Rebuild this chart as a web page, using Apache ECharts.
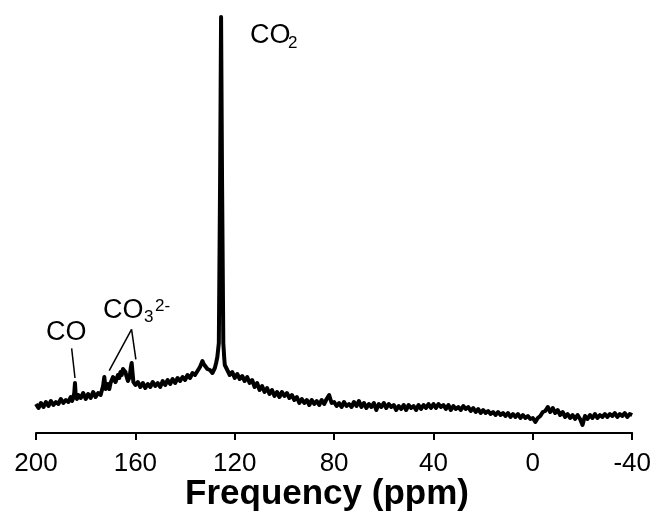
<!DOCTYPE html>
<html>
<head>
<meta charset="utf-8">
<script src="https://cdn.jsdelivr.net/npm/echarts@6/dist/echarts.min.js"></script>
<style>html,body{margin:0;padding:0;background:#fff}#c{width:654px;height:515px}</style>
</head>
<body>
<div id="c"></div>
<script>
// x axis ticks (ppm)
const xTicks = [200, 160, 120, 80, 40, 0, -40];
// spectrum segments: [ppm, intensity]
const segA = [[200,29],[199,25],[198,30],[197,26],[196,31],[195,27],[194,32],[193,28],[192,31],[191,29],[190,34],[189,30],[188,33],[187,31],[186,36],[185.5,32],[185,35],[184.6,40],[184.3,50],[184,37],[183.5,34],[183,38],[182,35],[181,40],[180,34],[179,39],[178,35],[177,41],[176,36],[175,40],[174,38],[173,47],[172.5,56],[172,44],[171,49],[170.5,44],[170,50],[169,56],[168,51],[167,58],[166.5,55],[166,61],[165.5,58],[165,64],[164.5,66],[164,61],[163.5,56],[163,52],[162.3,56],[161.8,66],[161.5,70],[161.2,62],[160.8,51]];
const segB = [[160,48],[159,51],[158,46],[157,50],[156,45],[155,49],[154,46],[153,51],[152,47],[151,50],[150,46],[149,52],[148,48],[147,53],[146,49],[145,54],[144,50],[143,55],[142,52],[141,56],[140,53],[139,58],[138,55],[137,60],[136,58],[135,62],[134,66],[133,72],[132.5,69],[132,70],[131,64],[130,63],[129,60],[128,65],[127.5,70],[127,76],[126.4,90],[125.9,250],[125.5,416],[125.1,250],[124.6,90],[124.2,74],[124,68],[123,63],[122,58],[121,61]];
const segC = [[120,55],[119,59],[118,54],[117,57],[116,52],[115,56],[114,50],[113,53],[112,46],[111,50],[110,43],[109,47],[108,41],[107,45],[106,39],[105,43],[104,37],[103,41],[102,36],[101,41],[100,37],[99,40],[98,35],[97,38],[96,33],[95,36],[94,30],[93,34],[92,30],[91,33],[90,28],[89,33],[88,29],[87,32],[86,28],[85,33],[84,29],[83,34],[82,38],[81,30]];
const segD = [[80,31],[79,27],[78,30],[77,26],[76,31],[75,27],[74,29],[73,26],[72,31],[71,27],[70,32],[69,26],[68,30],[67,25],[66,29],[65,26],[64,30],[63,23],[62,29],[61,26],[60,30],[59,25],[58,29],[57,26],[56,28],[55,23],[54,27],[53,24],[52,28],[51,23],[50,28],[49,25],[48,27],[47,23],[46,28],[45,24],[44,28],[43,25],[42,29],[41,25]];
const segE = [[40,29],[39,25],[38,29],[37,26],[36,28],[35,24],[34,28],[33,23],[32,27],[31,24],[30,26],[29,23],[28,27],[27,24],[26,26],[25,22],[24,25],[23,21],[22,24],[21,20],[20,23],[19,20],[18,22],[17,19],[16,21],[15,18],[14,21],[13,18],[12,20],[11,17],[10,20],[9,16],[8,19],[7,16],[6,19],[5,15],[4,18],[3,15],[2,17],[1,14]];
const segF = [[0,15],[-1,11],[-2,15],[-3,17],[-4,21],[-5,22],[-6,26],[-7,21],[-8,25],[-9,20],[-10,23],[-11,18],[-12,21],[-13,16],[-14,19],[-15,15],[-16,18],[-17,14],[-18,18],[-19,14],[-20,8],[-20.5,13],[-21,17],[-22,14],[-23,18],[-24,15],[-25,19],[-26,15],[-27,18],[-28,16],[-29,19],[-30,16],[-31,19],[-32,17],[-33,20],[-34,16],[-35,19],[-36,17],[-37,20],[-38,16],[-39,19],[-40,18]];
// leader lines for annotations: [[ppm, intensity], [ppm, intensity]]
const coLine = [[185.65, 84.7], [184.3, 55]];
const co3LineA = [[161.53, 103.7], [170.53, 62.3]];
const co3LineB = [[161.53, 103.7], [159.8, 73.7]];

const spectrum = segA.concat(segB, segC, segD, segE, segF);
const FONT = "'Liberation Sans', Arial, Helvetica, sans-serif";

const chart = echarts.init(document.getElementById('c'), null, {renderer: 'canvas'});
chart.setOption({
  animation: false,
  backgroundColor: '#fff',
  grid: {left: 36, right: 21, top: 10, bottom: 82},
  xAxis: {
    type: 'value', inverse: true, min: xTicks[xTicks.length - 1], max: xTicks[0], interval: 40,
    axisLine: {show: true, lineStyle: {color: '#000', width: 2}},
    axisTick: {show: true, length: 7, lineStyle: {color: '#000', width: 2}},
    axisLabel: {color: '#000', fontSize: 26, fontFamily: FONT, margin: 18, showMinLabel: true, showMaxLabel: true},
    splitLine: {show: false}
  },
  yAxis: {type: 'value', min: 0, max: 423, show: false},
  series: [{
    type: 'line', data: spectrum, showSymbol: false, symbol: 'none',
    lineStyle: {color: '#000', width: 4, join: 'round'}, z: 3,
    markLine: {
      silent: true, symbol: ['none', 'none'], animation: false,
      label: {show: false},
      lineStyle: {color: '#000', width: 1.5, type: 'solid'},
      data: [
        [{coord: coLine[0]}, {coord: coLine[1]}],
        [{coord: co3LineA[0]}, {coord: co3LineA[1]}],
        [{coord: co3LineB[0]}, {coord: co3LineB[1]}]
      ]
    }
  }],
  graphic: [
    {type: 'text', left: 250, top: 22, style: {text: 'CO', font: '27px ' + FONT, fill: '#000'}},
    {type: 'text', left: 288, top: 35, style: {text: '2', font: '17px ' + FONT, fill: '#000'}},
    {type: 'text', left: 46, top: 319, style: {text: 'CO', font: '27px ' + FONT, fill: '#000'}},
    {type: 'text', left: 103, top: 297, style: {text: 'CO', font: '27px ' + FONT, fill: '#000'}},
    {type: 'text', left: 144, top: 309, style: {text: '3', font: '17px ' + FONT, fill: '#000'}},
    {type: 'text', left: 155, top: 298, style: {text: '2-', font: '17px ' + FONT, fill: '#000'}},
    {type: 'text', left: 'center', top: 477, style: {text: 'Frequency (ppm)', font: 'bold 35px ' + FONT, fill: '#000'}}
  ]
});
</script>
</body>
</html>
